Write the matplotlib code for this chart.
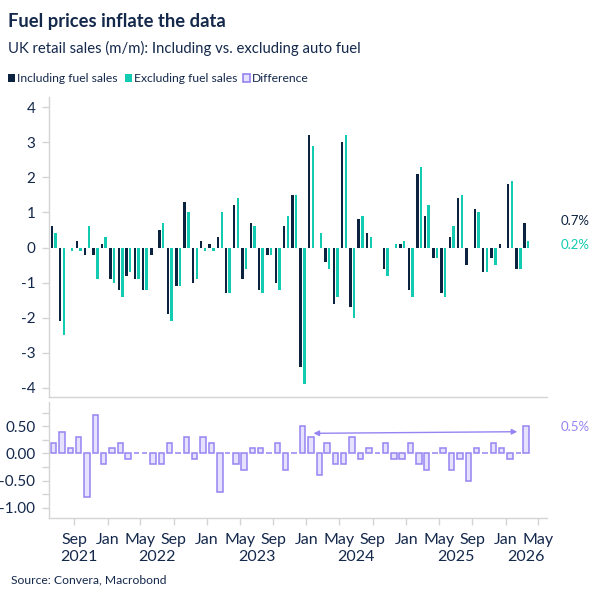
import matplotlib
matplotlib.use("Agg")
import matplotlib.pyplot as plt
import matplotlib.dates as mdates
import matplotlib.transforms as mtransforms
import pandas as pd
import numpy as np

plt.rcParams['font.family'] = ['Lato', 'DejaVu Sans']

# ---------------- data ----------------
months = pd.date_range('2021-06-01', periods=58, freq='MS')
including_fuel = [0.6, -2.1, 0.0, 0.2, -0.2, -0.2, 0.1, -0.9, -1.2, -0.8, -0.9, -1.2,
                  -0.2, 0.5, -1.9, -1.1, 1.3, -1.0, 0.2, 0.1, 0.3, -1.3, 1.2, -0.9,
                  0.7, -1.2, -0.2, -1.0, 0.6, 1.5, -3.4, 3.2, 0.0, -0.4, -1.6, 3.0,
                  -1.7, 0.8, 0.4, 0.0, -0.6, 0.0, 0.1, -1.2, 2.1, 0.9, -0.3, -1.3,
                  0.3, 1.4, -0.5, 1.1, -0.7, -0.3, 0.1, 1.8, -0.6, 0.7]
excluding_fuel = [0.4, -2.5, -0.1, -0.1, 0.6, -0.9, 0.3, -1.0, -1.4, -0.7, -0.9, -1.2,
                  0.0, 0.7, -2.1, -1.1, 1.0, -0.9, -0.1, -0.1, 1.0, -1.3, 1.4, -0.6,
                  0.6, -1.3, -0.2, -1.2, 0.9, 1.5, -3.9, 2.9, 0.4, -0.6, -1.4, 3.2,
                  -2.0, 0.9, 0.3, 0.0, -0.8, 0.1, 0.2, -1.4, 2.3, 1.2, -0.3, -1.4,
                  0.6, 1.5, 0.0, 1.0, -0.7, -0.5, 0.0, 1.9, -0.6, 0.2]
difference = [0.2, 0.4, 0.1, 0.3, -0.8, 0.7, -0.2, 0.1, 0.2, -0.1, 0.0, 0.0,
              -0.2, -0.2, 0.2, 0.0, 0.3, -0.1, 0.3, 0.2, -0.7, 0.0, -0.2, -0.3,
              0.1, 0.1, 0.0, 0.2, -0.3, 0.0, 0.5, 0.3, -0.4, 0.2, -0.2, -0.2,
              0.3, -0.1, 0.1, 0.0, 0.2, -0.1, -0.1, 0.2, -0.2, -0.3, 0.0, 0.1,
              -0.3, -0.1, -0.5, 0.1, 0.0, 0.2, 0.1, -0.1, 0.0, 0.5]
series_labels = ['Including fuel sales', 'Excluding fuel sales', 'Difference']
main_yticks = [4, 3, 2, 1, 0, -1, -2, -3, -4]
diff_yticks = [0.5, 0.0, -0.5, -1.0]
years = [2021, 2022, 2023, 2024, 2025, 2026]

# ---------------- style ----------------
NAVY = '#0c2340'
TEAL = '#12cbb0'
PURP = '#9584f2'
PURP_FILL = '#e6e1fd'
GRAY = '#d4d4d4'
TXT = '#14284b'

fig = plt.figure(figsize=(6, 6), dpi=100)
W, H = 600, 600

def ax_rect(l, t, r, b):
    return [l / W, 1 - b / H, (r - l) / W, (b - t) / H]

ax = fig.add_axes(ax_rect(49.3, 96.7, 546.7, 397.3))
axd = fig.add_axes(ax_rect(49.3, 402.3, 546.7, 517.7), sharex=ax)

x = mdates.date2num(months.to_pydatetime())

ax.bar(x + 9.9, including_fuel, width=9.0, color=NAVY, linewidth=0)
ax.bar(x + 23.3, excluding_fuel, width=9.0, color=TEAL, linewidth=0)
axd.bar(x + 16.0, difference, width=20.0, facecolor=PURP_FILL, edgecolor=PURP, linewidth=1.1)

xmin = mdates.date2num(pd.Timestamp('2021-06-01'))
xmax = mdates.date2num(pd.Timestamp('2026-06-01'))
ax.set_xlim(xmin, xmax)
ax.set_ylim(-4.27, 4.3)
axd.set_ylim(-1.18, 0.94)

for a in (ax, axd):
    for s in ('top', 'right'):
        a.spines[s].set_visible(False)
    for s in ('left', 'bottom'):
        a.spines[s].set_color(GRAY)
        a.spines[s].set_linewidth(1.0)
    a.tick_params(axis='y', colors=GRAY, labelcolor=TXT, labelsize=11, length=5, width=1, pad=5)

ax.set_yticks(main_yticks)
ax.set_yticklabels([str(v) for v in main_yticks])
ax.tick_params(axis='x', bottom=False, labelbottom=False)

axd.set_yticks(diff_yticks)
axd.set_yticklabels([f'{v:.2f}' for v in diff_yticks])
axd.set_yticks([0.75, 0.25, -0.25, -0.75], minor=True)
axd.tick_params(axis='y', which='minor', colors=GRAY, length=5, width=1)

axd.xaxis.set_major_locator(mdates.MonthLocator(bymonth=[1, 5, 9]))
axd.xaxis.set_major_formatter(mdates.DateFormatter('%b'))
axd.tick_params(axis='x', colors=GRAY, labelcolor=TXT, labelsize=11.5, length=5, width=1, pad=6)

# year labels centred on visible part of each year
trans = mtransforms.blended_transform_factory(axd.transData, fig.transFigure)
for yr in years:
    a0 = max(mdates.date2num(pd.Timestamp(f'{yr}-01-01')), xmin)
    a1 = min(mdates.date2num(pd.Timestamp(f'{yr + 1}-01-01')), xmax)
    axd.text((a0 + a1) / 2, 1 - 557 / H, str(yr), transform=trans, ha='center', va='center',
             fontsize=11.5, color=TXT)

# arrow
x_l = mdates.date2num(pd.Timestamp('2024-01-27'))
x_r = mdates.date2num(pd.Timestamp('2026-02-13'))
axd.annotate('', xy=(x_r, 0.40), xytext=(x_l, 0.37),
             arrowprops=dict(arrowstyle='<|-|>', color=PURP, lw=1.0,
                             mutation_scale=8, shrinkA=0, shrinkB=0))

# right end labels
fig.text(561 / W, 1 - 220.7 / H, '0.7%', color=NAVY, fontsize=9.5, va='center', ha='left')
fig.text(561 / W, 1 - 245 / H, '0.2%', color=TEAL, fontsize=9.5, va='center', ha='left')
fig.text(561 / W, 1 - 427 / H, '0.5%', color=PURP, fontsize=9.5, va='center', ha='left')

# titles
fig.text(8 / W, 1 - 22 / H, 'Fuel prices inflate the data', fontsize=13.2, fontweight='bold',
         color=TXT, va='center', ha='left')
fig.text(8 / W, 1 - 48 / H, 'UK retail sales (m/m): Including vs. excluding auto fuel', fontsize=10.7,
         color=TXT, va='center', ha='left')

# legend row
leg_y = 1 - 78 / H
items = [(8, NAVY, NAVY, series_labels[0]), (125, TEAL, TEAL, series_labels[1]),
         (243, PURP_FILL, PURP, series_labels[2])]
for lx, fc, ec, lab in items:
    fig.patches.append(plt.Rectangle((lx / W, leg_y - 3.5 / H), 7 / W, 7 / H,
                                     transform=fig.transFigure, facecolor=fc,
                                     edgecolor=ec, linewidth=1.2 if fc == PURP_FILL else 0))
    fig.text((lx + 9) / W, leg_y, lab, fontsize=8.7, color=TXT, va='center', ha='left')

fig.text(11 / W, 1 - 580 / H, 'Source: Convera, Macrobond', fontsize=8.7, color=TXT,
         va='center', ha='left')

fig.savefig('out.png', dpi=100, facecolor='white')
